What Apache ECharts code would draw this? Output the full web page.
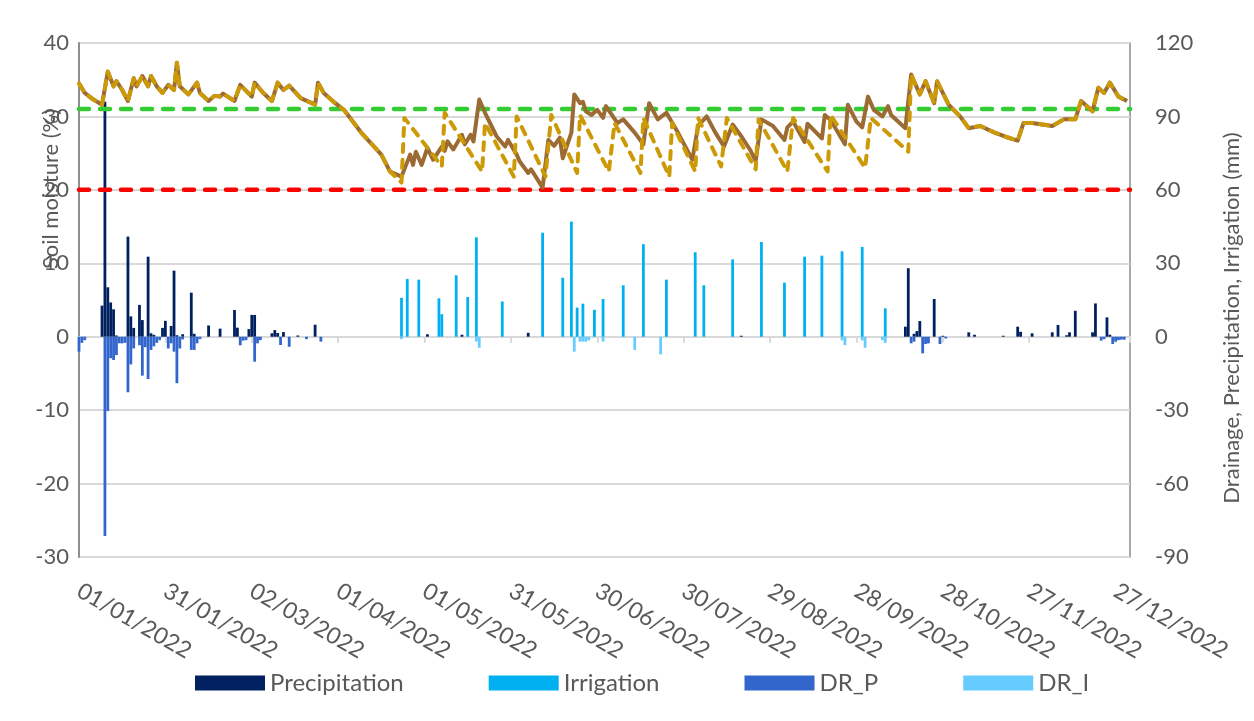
<!DOCTYPE html>
<html><head><meta charset="utf-8">
<script src="https://cdn.jsdelivr.net/npm/echarts@6/dist/echarts.min.js"></script>
<style>html,body{margin:0;padding:0;background:#fff}#c{width:1254px;height:721px}</style>
</head><body><div id="c"></div>
<script>
// ---- tick labels (day index 0 = 01/01/2022, every 30 days) ----
const xTickLabels = ['01/01/2022','31/01/2022','02/03/2022','01/04/2022','01/05/2022','31/05/2022','30/06/2022','30/07/2022','29/08/2022','28/09/2022','28/10/2022','27/11/2022','27/12/2022'];
const seriesNames = ['Precipitation','Irrigation','DR_P','DR_I'];

// ---- reference levels (soil moisture %) ----
const fieldCapacity = 31;
const refillPoint = 20;

// ---- soil moisture (%), [day, value] ----
const smCommonStart = [[0,34.5],[2,33.2],[5,32.3],[8,31.6],[10,36.1],[12,34.1],[13,34.8],[15,33.6],[17,32.1],[19,35.2],[20,34.1],[22,35.5],[24,34.1],[25,35.5],[27,34.1],[29,33.2],[31,34.3],[33,33.6],[34,37.3],[35,34.1],[38,33.0],[41,34.6],[42,33.2],[45,32.1],[47,32.8],[49,32.7],[50,33.1],[54,32.1],[56,34.3],[60,32.7],[61,34.6],[64,33.2],[67,32.1],[69,34.6],[71,33.6],[73,34.2],[77,32.5],[82,31.6],[83,34.6],[85,33.2],[89,31.8],[92,30.9],[98,27.8],[105,24.8],[108,22.5]];
const smSolidMid = [[112,21.8],[115,24.8],[116,23.4],[117,25.2],[119,23.4],[121,25.7],[123,24.1],[126,25.9],[127,25.3],[128,26.6],[130,25.5],[133,27.5],[134,26.2],[136,27.5],[137,26.6],[139,32.3],[141,30.5],[145,27.3],[148,25.9],[149,26.8],[152,24.8],[153,23.9],[156,22.3],[157,22.8],[161,20.3],[163,26.8],[165,26.0],[167,27.1],[168,24.3],[171,27.8],[172,33.0],[174,31.8],[175,32.0],[176,30.7],[178,30.2],[180,30.9],[182,29.8],[183,31.4],[187,29.1],[189,29.6],[193,27.8],[196,26.2],[198,31.8],[201,29.6],[204,30.5],[208,27.8],[213,24.1],[215,28.7],[218,30.0],[221,27.8],[224,25.9],[227,28.9],[230,27.3],[233,25.5],[235,23.9],[237,29.6],[241,28.7],[245,26.8],[246,28.5],[248,29.3],[252,26.5],[253,29.0],[258,27.0],[259,30.2],[261,29.5],[266,26.2],[267,31.6],[270,29.3],[272,28.5],[274,32.7],[276,30.9],[279,30.0],[281,31.4],[282,30.2],[287,28.4]];
const smDashedMid = [[112,21.0],[113,29.8],[126,23.2],[127,30.5],[140,22.5],[141,29.1],[151,21.8],[152,30.0],[162,21.8],[164,30.2],[173,22.3],[174,30.2],[184,22.5],[186,29.1],[195,22.3],[196,29.8],[205,21.8],[206,29.1],[214,22.5],[215,29.8],[223,23.2],[225,29.8],[235,22.8],[236,29.6],[246,22.5],[248,29.8],[260,22.5],[261,30.2],[273,23.0],[275,29.8],[288,25.2]];
const smCommonEnd = [[289,35.7],[292,33.0],[294,34.8],[297,31.8],[298,34.8],[302,31.6],[306,30.0],[309,28.4],[313,28.7],[318,27.8],[322,27.2],[326,26.7],[328,29.1],[331,29.1],[338,28.7],[342,29.6],[346,29.6],[348,32.1],[352,30.7],[354,33.9],[356,33.2],[358,34.6],[361,32.7],[364,32.1]];

// ---- bars (mm), [day, value] ----
const precipitation = [[8,12.7],[9,96],[10,20.2],[11,14.0],[12,11.2],[13,0.5],[17,40.9],[18,8.3],[19,3.6],[21,13],[22,6.8],[24,32.7],[25,1.4],[26,0.8],[29,3.6],[30,6.5],[32,4.4],[33,27],[34,0.6],[36,1],[39,18],[40,1.2],[45,4.6],[49,3.3],[54,10.9],[55,3.7],[59,3.1],[60,8.9],[61,8.9],[67,1.4],[68,2.7],[69,1.5],[71,1.9],[76,0.5],[82,4.9],[121,1],[133,0.8],[156,1.6],[230,0.4],[287,4.1],[288,28],[290,1.2],[291,2.3],[292,6.4],[297,15.4],[300,0.4],[309,1.8],[311,0.8],[321,0.4],[326,4.1],[327,2],[331,1.4],[338,1.8],[340,4.8],[343,0.6],[344,1.8],[346,10.6],[352,1.8],[353,13.6],[357,7.9],[358,0.8]];
const irrigation = [[112,15.9],[114,23.6],[118,23.3],[125,15.7],[126,9.2],[131,25.1],[135,16.2],[138,40.6],[147,14.4],[161,42.5],[168,24.1],[171,47.0],[173,11.9],[175,13.5],[179,11.0],[182,15.4],[189,21.0],[196,37.8],[204,23.3],[214,34.5],[217,21.0],[227,31.6],[237,38.7],[245,22.1],[252,32.7],[258,33.1],[265,34.9],[272,36.7],[280,11.6]];
const drainageP = [[0,-6.1],[1,-2.5],[2,-1.4],[9,-81.4],[10,-30.4],[11,-8.8],[12,-9.5],[13,-7.5],[14,-2.7],[15,-2.7],[16,-2.5],[17,-22.7],[18,-11.3],[19,-4.8],[21,-3.5],[22,-15.9],[23,-4.3],[24,-17.3],[25,-5.4],[26,-3.9],[27,-2.5],[28,-1.4],[31,-4.8],[32,-2.7],[33,-6.1],[34,-19],[35,-4.8],[36,-1.1],[39,-5.4],[40,-5.4],[41,-2.7],[42,-1],[56,-3.5],[57,-1.6],[58,-1.4],[61,-10.2],[62,-2.7],[63,-1.4],[70,-3.4],[73,-4.1],[79,-1],[84,-2],[289,-2.7],[290,-2],[293,-6.8],[294,-3],[295,-2.7],[299,-3],[301,-0.7],[355,-1.6],[356,-1],[359,-3],[360,-2],[361,-1.4],[362,-1.2],[363,-1.2]];
const drainageI = [[112,-1],[138,-2],[139,-4.5],[172,-6.1],[174,-2],[175,-2],[176,-2],[177,-1.5],[182,-2],[193,-5.4],[202,-7.2],[265,-1.5],[266,-3.4],[272,-1.5],[273,-4.5],[279,-1.4],[280,-2.5]];

const smSolid = smCommonStart.concat(smSolidMid, smCommonEnd);
const smDashed = smCommonStart.concat(smDashedMid, smCommonEnd);

const FONT = 'Lato';
const TXT = '#595959';
const chart = echarts.init(document.getElementById('c'), null, {renderer:'canvas'});
function barSeries(name, data, color){
  return {type:'bar', name, data, xAxisIndex:0, yAxisIndex:1, barWidth:2.8, barGap:'-100%', itemStyle:{color}, silent:true};
}
function hLine(value, color){
  return {type:'line', data:[[0,value],[365,value]], xAxisIndex:0, yAxisIndex:0, symbol:'none', silent:true,
    lineStyle:{color, width:4.5, type:[10,11], cap:'round'}};
}
chart.setOption({
  animation:false,
  backgroundColor:'#ffffff',
  textStyle:{fontFamily:FONT},
  grid:{left:79, right:124, top:43, bottom:164, show:true, borderColor:'#8c8c8c', borderWidth:1.5},
  legend:{data:seriesNames, left:190, top:666, itemWidth:70, itemHeight:15, itemGap:85, icon:'rect',
    textStyle:{fontSize:24, color:TXT, fontFamily:FONT}},
  xAxis:[
    {type:'value', min:0, max:365, interval:30,
      axisLine:{show:true, onZero:true, lineStyle:{color:'#d9d9d9', width:2}},
      axisTick:{show:true, length:6, lineStyle:{color:'#d9d9d9', width:2}},
      axisLabel:{show:false}, splitLine:{show:false}},
    {type:'value', min:0, max:365, interval:30, position:'bottom',
      axisLine:{show:false, onZero:false}, axisTick:{show:false}, splitLine:{show:false},
      axisLabel:{rotate:-30, margin:32, fontSize:23, color:TXT, fontFamily:FONT,
        formatter:v => (v % 30 === 0 && v/30 < xTickLabels.length) ? xTickLabels[v/30] : ''}}
  ],
  yAxis:[
    {type:'value', min:-30, max:40, interval:10,
      axisLine:{show:true, lineStyle:{color:'#8c8c8c', width:1.5}}, axisTick:{show:false},
      axisLabel:{fontSize:22, color:TXT, margin:10, fontFamily:FONT},
      splitLine:{show:true, lineStyle:{color:'#d9d9d9', width:2}}},
    {type:'value', min:-90, max:120, interval:30, position:'right',
      axisLine:{show:true, lineStyle:{color:'#8c8c8c', width:1.5}}, axisTick:{show:false},
      axisLabel:{fontSize:22, color:TXT, margin:25, fontFamily:FONT},
      splitLine:{show:false}}
  ],
  graphic:[
    {type:'text', x:51, y:189, rotation:Math.PI/2, silent:true,
      style:{text:'Soil moisture (%)', font:'22px '+FONT, fill:TXT, textAlign:'center', textVerticalAlign:'middle', align:'center', verticalAlign:'middle'}},
    {type:'text', x:1232, y:318, rotation:Math.PI/2, silent:true,
      style:{text:'Drainage, Precipitation, Irrigation (mm)', font:'22px '+FONT, fill:TXT, textAlign:'center', textVerticalAlign:'middle', align:'center', verticalAlign:'middle'}}
  ],
  series:[
    barSeries('Precipitation', precipitation, '#002060'),
    barSeries('Irrigation', irrigation, '#00B0F0'),
    barSeries('DR_P', drainageP, '#3366CC'),
    barSeries('DR_I', drainageI, '#66CCFF'),
    hLine(fieldCapacity, '#33CC33'),
    hLine(refillPoint, '#FF0000'),
    {type:'line', name:'SM solid', data:smSolid, xAxisIndex:0, yAxisIndex:0, symbol:'none', silent:true,
      lineStyle:{color:'#9C6A33', width:4, join:'round'}},
    {type:'line', name:'SM dashed', data:smDashed, xAxisIndex:0, yAxisIndex:0, symbol:'none', silent:true,
      lineStyle:{color:'#CC9A06', width:4, type:[8,8], cap:'round', join:'round'}}
  ]
});
</script></body></html>
